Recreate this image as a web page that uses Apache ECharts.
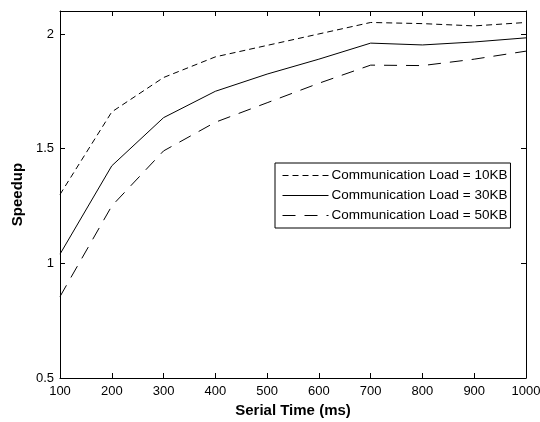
<!DOCTYPE html>
<html>
<head>
<meta charset="utf-8">
<script src="https://cdn.jsdelivr.net/npm/echarts@6/dist/echarts.min.js"></script>
<style>
  html, body { margin: 0; padding: 0; background: #fff; }
  #chart { width: 540px; height: 422px; }
</style>
</head>
<body>
<div id="chart"></div>
<script>
// Serial time (ms) on the x axis
const serialTime = [100, 200, 300, 400, 500, 600, 700, 800, 900, 1000];
// Speedup for each communication load
const load10KB = [1.30, 1.66, 1.81, 1.90, 1.95, 2.00, 2.05, 2.045, 2.035, 2.05];
const load30KB = [1.04, 1.425, 1.635, 1.75, 1.825, 1.89, 1.96, 1.952, 1.965, 1.983];
const load50KB = [0.855, 1.25, 1.49, 1.615, 1.70, 1.785, 1.864, 1.862, 1.89, 1.925];
const seriesNames = [
  'Communication Load = 10KB',
  'Communication Load = 30KB',
  'Communication Load = 50KB'
];

const pairs = (ys) => serialTime.map((x, i) => [x, ys[i]]);
const font = 'Liberation Sans, Arial, sans-serif';

const chart = echarts.init(document.getElementById('chart'), null, { renderer: 'canvas' });

const mkLine = (name, ys, type) => ({
  name,
  type: 'line',
  data: pairs(ys),
  showSymbol: false,
  symbol: 'none',
  lineStyle: { color: '#000', width: 1, type },
  itemStyle: { color: '#000' },
  animation: false
});

const boxAxis = {
  axisLine: { show: true, lineStyle: { color: '#000', width: 1 } },
  axisTick: { show: true, inside: true, length: 5, lineStyle: { color: '#000' } },
  splitLine: { show: false }
};

chart.setOption({
  animation: false,
  backgroundColor: '#fff',
  grid: { left: 60, right: 14, top: 11, bottom: 44, outerBoundsMode: 'none', containLabel: false },
  legend: {
    orient: 'vertical',
    left: 275,
    top: 163,
    itemWidth: 46,
    itemHeight: 14,
    itemGap: 5,
    padding: [5, 3, 5, 7],
    borderColor: '#000',
    borderWidth: 1,
    backgroundColor: '#fff',
    // only the line sample is shown next to each entry
    itemStyle: { opacity: 0 },
    lineStyle: { width: 1 },
    textStyle: { fontFamily: font, fontSize: 13.5, color: '#000', padding: [0, 0, 0, -2], lineHeight: 15 },
    data: seriesNames
  },
  xAxis: [Object.assign({
    type: 'value',
    min: 100, max: 1000, interval: 100,
    name: 'Serial Time (ms)',
    nameLocation: 'middle',
    nameGap: 21,
    nameTextStyle: { fontFamily: font, fontSize: 15, fontWeight: 'bold', color: '#000' },
    axisLabel: { fontFamily: font, fontSize: 13, color: '#000', margin: 7, formatter: (v) => String(v) }
  }, boxAxis), Object.assign({
    type: 'value', position: 'top',
    min: 100, max: 1000, interval: 100,
    axisLabel: { show: false }
  }, boxAxis)],
  yAxis: [Object.assign({
    type: 'value',
    min: 0.5, max: 2.1, interval: 0.5,
    name: 'Speedup',
    nameLocation: 'middle',
    nameGap: 27,
    nameTextStyle: { fontFamily: font, fontSize: 15, fontWeight: 'bold', color: '#000' },
    axisLabel: { fontFamily: font, fontSize: 13, color: '#000', margin: 6, showMaxLabel: false }
  }, boxAxis), Object.assign({
    type: 'value', position: 'right',
    min: 0.5, max: 2.1, interval: 0.5,
    axisLabel: { show: false }
  }, boxAxis)],
  series: [
    mkLine(seriesNames[0], load10KB, [6, 4]),
    mkLine(seriesNames[1], load30KB, 'solid'),
    mkLine(seriesNames[2], load50KB, [13, 9])
  ]
});
</script>
</body>
</html>
